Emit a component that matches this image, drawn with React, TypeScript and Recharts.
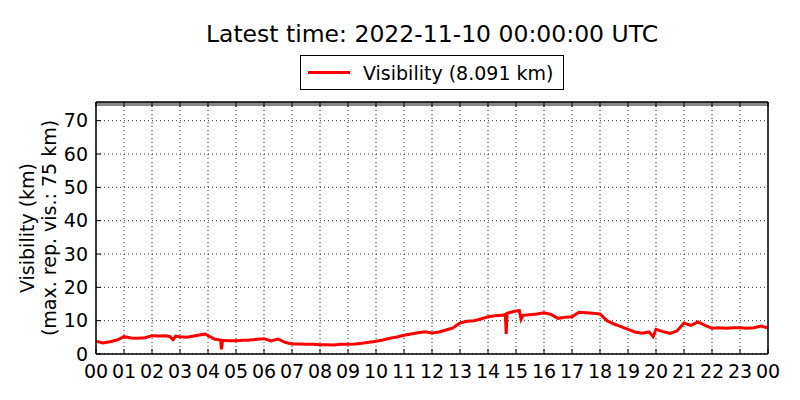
import React from "react";
import {
  LineChart,
  Line,
  XAxis,
  YAxis,
  CartesianGrid,
  ReferenceLine,
} from "recharts";

// hours since 00:00 UTC
const times = [
  0, 0.25, 0.5, 0.75, 1, 1.25, 1.5, 1.75, 2, 2.25, 2.5, 2.65, 2.75, 2.85, 3,
  3.25, 3.5, 3.75, 3.9, 4, 4.25, 4.45, 4.48, 4.52, 4.75, 5, 5.25, 5.5, 5.75, 6,
  6.25, 6.5, 6.75, 7, 7.25, 7.5, 7.75, 8, 8.25, 8.5, 8.75, 9, 9.25, 9.5, 9.75,
  10, 10.25, 10.5, 10.75, 11, 11.25, 11.5, 11.75, 12, 12.25, 12.5, 12.75, 13,
  13.25, 13.5, 13.75, 14, 14.25, 14.5, 14.62, 14.65, 14.68, 14.75, 15, 15.12,
  15.18, 15.25, 15.5, 15.75, 16, 16.25, 16.5, 16.75, 17, 17.25, 17.5, 17.75, 18,
  18.25, 18.5, 18.75, 19, 19.25, 19.5, 19.75, 19.9, 20, 20.25, 20.5, 20.75, 21,
  21.25, 21.5, 21.75, 22, 22.25, 22.5, 22.75, 23, 23.25, 23.5, 23.75, 24,
];

// visibility, km
const visibility = [
  3.8, 3.3, 3.7, 4.2, 5.2, 4.8, 4.7, 4.9, 5.5, 5.4, 5.5, 5.2, 4.3, 5.4, 5.2,
  5.0, 5.4, 5.8, 6.0, 5.5, 4.4, 4.2, 1.4, 4.1, 4.0, 4.0, 4.1, 4.2, 4.4, 4.6,
  3.9, 4.5, 3.5, 3.0, 3.0, 2.9, 2.9, 2.8, 2.8, 2.7, 2.9, 2.9, 3.0, 3.2, 3.5,
  3.8, 4.2, 4.7, 5.1, 5.6, 6.0, 6.4, 6.7, 6.3, 6.6, 7.2, 7.8, 9.3,
  9.8, 10.0, 10.5, 11.2, 11.5, 11.6, 11.9, 6.0, 12.2, 12.4, 12.9, 13.0,
  10.4, 11.6, 11.8, 12.0, 12.4, 11.9, 10.7, 11.0, 11.2, 12.5, 12.4, 12.2, 12.0,
  10.0, 9.0, 8.2, 7.4, 6.6, 6.2, 6.6, 5.2, 7.4, 6.7, 6.2, 6.9, 9.3,
  8.6, 9.6, 8.6, 7.7, 7.9, 7.7, 7.9, 7.9, 7.7, 7.9, 8.4, 7.8,
];

const hourTicks = [
  0, 1, 2, 3, 4, 5, 6, 7, 8, 9, 10, 11, 12, 13, 14, 15, 16, 17, 18, 19, 20, 21,
  22, 23, 24,
];
const hourLabels = [
  "00", "01", "02", "03", "04", "05", "06", "07", "08", "09", "10", "11", "12",
  "13", "14", "15", "16", "17", "18", "19", "20", "21", "22", "23", "00",
];
const visTicks = [0, 10, 20, 30, 40, 50, 60, 70];
const maxRepVis = 75;

const title = "Latest time: 2022-11-10 00:00:00 UTC";
const legendLabel = "Visibility (8.091 km)";

const data = times.map((t, i) => ({ t, vis: visibility[i] }));

const FONT = "'DejaVu Sans', sans-serif";
const TICK_LEN = 5;
const MARGIN = 8;

function BottomTick(props: any) {
  const { x, y, payload, index } = props;
  const axisY = y - MARGIN;
  return (
    <g>
      <line x1={x} y1={axisY} x2={x} y2={axisY - TICK_LEN} stroke="#000" />
      <text
        x={x}
        y={y}
        dy="0.85em"
        textAnchor="middle"
        fontSize={19}
        fontFamily={FONT}
        fill="#000"
      >
        {hourLabels[index] ?? payload.value}
      </text>
    </g>
  );
}

function TopTick(props: any) {
  const { x, y } = props;
  return <line x1={x} y1={y} x2={x} y2={y + TICK_LEN} stroke="#000" />;
}

function LeftTick(props: any) {
  const { x, y, payload } = props;
  const axisX = x + MARGIN;
  return (
    <g>
      <line x1={axisX} y1={y} x2={axisX + TICK_LEN} y2={y} stroke="#000" />
      <text
        x={x}
        y={y}
        dy="0.35em"
        textAnchor="end"
        fontSize={19}
        fontFamily={FONT}
        fill="#000"
      >
        {payload.value}
      </text>
    </g>
  );
}

function RightTick(props: any) {
  const { x, y } = props;
  return <line x1={x} y1={y} x2={x - TICK_LEN} y2={y} stroke="#000" />;
}

export default function App() {
  return (
    <div
      style={{
        position: "absolute",
        left: 0,
        top: 0,
        width: 800,
        height: 400,
        background: "#fff",
        fontFamily: FONT,
      }}
    >
      <LineChart
        width={800}
        height={400}
        data={data}
        margin={{ top: 92, right: 22, bottom: 16, left: 56 }}
      >
        <CartesianGrid
          stroke="#000"
          strokeWidth={0.8}
          strokeDasharray="1 3"
          verticalValues={hourTicks}
          horizontalValues={visTicks}
        />
        <XAxis
          dataKey="t"
          type="number"
          domain={[0, 24]}
          ticks={hourTicks}
          interval={0}
          height={30}
          tickSize={0}
          tickMargin={MARGIN}
          tickLine={false}
          axisLine={{ stroke: "#000", strokeWidth: 1.5 }}
          tick={<BottomTick />}
        />
        <XAxis
          xAxisId="top"
          orientation="top"
          dataKey="t"
          type="number"
          domain={[0, 24]}
          ticks={hourTicks}
          interval={0}
          height={10}
          tickSize={0}
          tickMargin={0}
          tickLine={false}
          axisLine={{ stroke: "#000", strokeWidth: 1.5 }}
          tick={<TopTick />}
        />
        <YAxis
          type="number"
          domain={[0, 75.6]}
          ticks={visTicks}
          interval={0}
          width={40}
          tickSize={0}
          tickMargin={MARGIN}
          tickLine={false}
          axisLine={{ stroke: "#000", strokeWidth: 1.5 }}
          tick={<LeftTick />}
        />
        <YAxis
          yAxisId="right"
          orientation="right"
          type="number"
          domain={[0, 75.6]}
          ticks={visTicks}
          interval={0}
          width={10}
          tickSize={0}
          tickMargin={0}
          tickLine={false}
          axisLine={{ stroke: "#000", strokeWidth: 1.5 }}
          tick={<RightTick />}
        />
        <ReferenceLine y={maxRepVis} stroke="#888" strokeWidth={4} />
        <Line
          type="linear"
          dataKey="vis"
          stroke="#ff0000"
          strokeWidth={3}
          dot={false}
          isAnimationActive={false}
        />
      </LineChart>

      <div
        style={{
          position: "absolute",
          left: 96,
          width: 672,
          top: 19,
          textAlign: "center",
          fontSize: 23.5,
          lineHeight: "30px",
          color: "#000",
          whiteSpace: "nowrap",
        }}
      >
        {title}
      </div>

      <div
        style={{
          position: "absolute",
          left: 300,
          top: 55,
          width: 264,
          height: 35,
          border: "1px solid #000",
          display: "flex",
          alignItems: "center",
          boxSizing: "border-box",
          background: "#fff",
        }}
      >
        <div
          style={{
            marginLeft: 7,
            width: 42,
            height: 3,
            background: "#ff0000",
          }}
        />
        <span style={{ marginLeft: 13, fontSize: 19, whiteSpace: "nowrap" }}>
          {legendLabel}
        </span>
      </div>

      <svg
        width={80}
        height={400}
        style={{ position: "absolute", left: 0, top: 0 }}
      >
        <text
          transform="translate(34,228) rotate(-90)"
          textAnchor="middle"
          fontSize={19}
          fontFamily={FONT}
          fill="#000"
        >
          Visibility (km)
        </text>
        <text
          transform="translate(56,228) rotate(-90)"
          textAnchor="middle"
          fontSize={19}
          fontFamily={FONT}
          fill="#000"
        >
          (max. rep. vis.: 75 km)
        </text>
      </svg>
    </div>
  );
}
